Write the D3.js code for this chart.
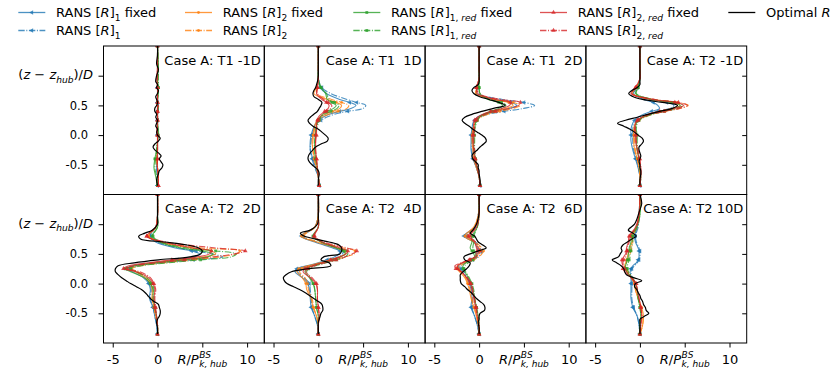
<!DOCTYPE html>
<html lang="en">
<head>
    <meta charset="UTF-8">
    <title>Case A: RANS vs optimal R profiles</title>
    <style>
        body {
            margin: 0;
            background-color: #ffffff;
        }
        svg {
            display: block;
            font-family: "DejaVu Sans", sans-serif;
        }
        .case-label {
            font-size: 13px;
            white-space: pre;
        }
        .rich {
            white-space: pre;
        }
        .frame {
            fill: none;
            stroke: #000;
            stroke-width: 1;
        }
    </style>
</head>
<body>
    <svg id="chart" width="830" height="386"></svg>

    <script src="https://d3js.org/d3.v7.min.js"></script>
    <script>
        // heights (z - z_hub)/D where the RANS profiles are sampled
        var zRans = [-0.85, -0.7, -0.55, -0.4, -0.25, -0.1,
                     0.0, 0.1, 0.2, 0.25, 0.3, 0.35, 0.4, 0.45, 0.5, 0.55,
                     0.6, 0.7, 0.8, 0.95, 1.15, 1.5];

        // heights where the optimal R profile is sampled
        var zOpt = [-0.85, -0.75, -0.65,
                    -0.6, -0.55, -0.5, -0.45, -0.4, -0.35, -0.3, -0.25, -0.2, -0.15, -0.1, -0.05,
                    0.0, 0.05, 0.1, 0.15, 0.2, 0.25, 0.3, 0.35, 0.4, 0.45, 0.5, 0.55, 0.6, 0.65, 0.7, 0.75, 0.8, 0.85, 0.9,
                    1.0, 1.1, 1.2, 1.35, 1.5];

        var panelTitles = ['Case A: T1 -1D', 'Case A: T1  1D', 'Case A: T1  2D', 'Case A: T2 -1D',
                           'Case A: T2  2D', 'Case A: T2  4D', 'Case A: T2  6D', 'Case A: T2 10D'];

        var xTicks = [-5, 0, 5, 10];
        var yTicks = [-0.5, 0.0, 0.5, 1.0];

        // series order: [R]1 fixed, [R]1, [R]2 fixed, [R]2, [R]1,red fixed, [R]1,red, [R]2,red fixed, [R]2,red
        var ransT1m1 = [
            [0.0, 0.0, -0.1, -0.1, 0.0, 0.0,  0.0, 0.0, 0.0, 0.0, 0.0, 0.0, 0.0, 0.0, 0.1, 0.0,  0.0, 0.0, 0.0, 0.0, 0.0, 0.0],
            [0.0, 0.0, -0.1, -0.1, -0.1, 0.0,  0.0, 0.0, 0.0, 0.0, 0.0, 0.0, 0.0, 0.1, 0.1, 0.0,  0.0, 0.0, 0.0, 0.0, 0.0, 0.0],
            [0.0, 0.1, 0.0, -0.1, 0.0, 0.0,  0.0, 0.0, 0.0, 0.0, 0.0, 0.0, 0.0, 0.0, 0.0, 0.0,  0.0, 0.0, 0.0, 0.0, 0.0, 0.0],
            [0.0, 0.1, 0.0, -0.1, -0.1, 0.0,  0.0, 0.0, 0.0, 0.0, 0.0, 0.0, 0.0, 0.0, 0.1, 0.0,  0.0, 0.0, 0.0, 0.0, 0.0, 0.0],
            [0.0, -0.2, -0.4, -0.3, -0.1, 0.0,  0.1, 0.1, 0.0, 0.0, 0.0, 0.0, 0.0, 0.0, 0.0, 0.0,  0.0, 0.1, 0.1, 0.0, 0.1, 0.0],
            [0.0, -0.1, -0.3, -0.2, -0.1, 0.0,  0.0, 0.0, 0.0, 0.0, 0.0, 0.0, 0.0, 0.1, 0.0, 0.0,  0.0, 0.1, 0.1, 0.1, 0.1, 0.0],
            [0.1, 0.1, 0.0, 0.0, 0.0, 0.0,  0.0, -0.1, 0.0, 0.0, 0.0, 0.0, 0.0, 0.0, 0.0, 0.0,  0.0, 0.0, 0.0, -0.1, 0.0, 0.0],
            [0.1, 0.1, 0.0, 0.0, 0.0, 0.0,  0.0, 0.0, 0.0, 0.0, 0.0, 0.0, 0.0, 0.0, 0.1, 0.0,  0.0, 0.0, 0.0, 0.0, 0.0, 0.0]
        ];
        var ransT1p1 = [
            [0.1, 0.0, -0.3, -0.6, -0.9, -0.9,  -0.8, -0.6, -0.3, 0.0, 0.5, 1.2, 2.4, 3.7, 4.2, 3.5,  2.4, 0.9, 0.2, 0.0, 0.0, 0.0],
            [0.1, 0.0, -0.4, -0.7, -0.9, -0.8,  -0.7, -0.5, -0.2, 0.3, 0.9, 1.8, 3.3, 5.0, 5.3, 4.3,  3.2, 1.4, 0.4, 0.0, 0.0, 0.0],
            [0.1, 0.0, -0.2, -0.4, -0.6, -0.7,  -0.6, -0.5, -0.3, -0.1, 0.2, 0.8, 1.6, 2.4, 2.6, 2.0,  1.0, -0.5, -0.2, 0.0, 0.0, 0.0],
            [0.1, 0.0, -0.2, -0.5, -0.6, -0.6,  -0.5, -0.4, -0.2, 0.1, 0.5, 1.2, 2.2, 3.2, 3.4, 2.6,  1.5, -0.2, -0.1, 0.0, 0.0, 0.0],
            [0.1, 0.0, -0.1, -0.3, -0.4, -0.4,  -0.3, -0.3, -0.1, 0.0, 0.2, 0.5, 1.0, 1.7, 2.0, 1.5,  1.0, 0.8, 0.3, 0.0, 0.0, 0.0],
            [0.1, 0.0, -0.1, -0.3, -0.4, -0.4,  -0.3, -0.2, 0.0, 0.1, 0.3, 0.7, 1.4, 2.1, 2.3, 1.8,  1.2, 0.9, 0.3, 0.0, 0.0, 0.0],
            [0.1, 0.0, -0.1, -0.2, -0.3, -0.3,  -0.3, -0.2, -0.2, -0.1, 0.0, 0.3, 0.7, 1.1, 1.2, 0.9,  0.4, -0.2, -0.1, 0.0, 0.0, 0.0],
            [0.1, 0.0, -0.1, -0.2, -0.3, -0.3,  -0.2, -0.2, -0.1, 0.0, 0.2, 0.5, 0.9, 1.4, 1.5, 1.1,  0.6, -0.1, -0.1, 0.0, 0.0, 0.0]
        ];
        var ransT1p2 = [
            [0.1, 0.0, -0.3, -0.7, -0.9, -0.9,  -0.9, -0.8, -0.7, -0.5, -0.2, 0.5, 1.8, 3.4, 4.2, 3.6,  1.8, -0.3, -0.2, 0.0, 0.0, 0.0],
            [0.1, 0.0, -0.3, -0.6, -0.8, -0.8,  -0.8, -0.7, -0.6, -0.4, 0.0, 1.0, 2.8, 5.0, 6.2, 5.0,  2.6, -0.1, -0.2, 0.0, 0.0, 0.0],
            [0.1, 0.0, -0.3, -0.6, -0.7, -0.8,  -0.8, -0.7, -0.5, -0.3, 0.0, 0.7, 1.8, 3.0, 3.8, 3.3,  1.5, -0.4, -0.2, 0.0, 0.0, 0.0],
            [0.1, 0.0, -0.2, -0.5, -0.6, -0.7,  -0.7, -0.6, -0.5, -0.2, 0.2, 1.0, 2.3, 3.8, 4.6, 3.8,  1.8, -0.3, -0.2, 0.0, 0.0, 0.0],
            [0.1, 0.0, -0.2, -0.4, -0.6, -0.6,  -0.6, -0.5, -0.4, -0.3, 0.0, 0.5, 1.3, 2.2, 2.6, 2.2,  1.0, 0.1, 0.0, 0.0, 0.0, 0.0],
            [0.1, 0.0, -0.2, -0.4, -0.5, -0.5,  -0.5, -0.5, -0.3, -0.2, 0.1, 0.7, 1.6, 2.6, 3.0, 2.5,  1.2, 0.1, 0.0, 0.0, 0.0, 0.0],
            [0.1, 0.0, -0.2, -0.5, -0.6, -0.7,  -0.7, -0.6, -0.6, -0.5, -0.2, 0.4, 1.3, 2.6, 3.4, 3.5,  1.8, -0.2, -0.3, 0.0, 0.0, 0.0],
            [0.1, 0.0, -0.2, -0.4, -0.5, -0.6,  -0.6, -0.5, -0.5, -0.3, 0.0, 0.7, 1.8, 3.4, 4.4, 4.6,  2.4, 0.0, -0.3, 0.0, 0.0, 0.0]
        ];
        var ransT2m1 = [
            [0.0, 0.0, -0.2, -0.5, -0.8, -1.0,  -1.0, -1.0, -0.8, -0.6, -0.2, 0.4, 1.3, 2.2, 2.0, 1.5,  0.4, -0.8, -0.3, 0.0, 0.0, 0.0],
            [0.0, 0.0, -0.2, -0.4, -0.7, -0.8,  -0.8, -0.8, -0.6, -0.3, 0.2, 0.9, 2.0, 3.3, 3.8, 3.0,  1.0, -0.7, -0.3, 0.0, 0.0, 0.0],
            [0.0, 0.0, -0.1, -0.3, -0.6, -0.7,  -0.7, -0.7, -0.5, -0.2, 0.3, 1.0, 2.2, 3.6, 4.5, 3.6,  1.2, -0.9, -0.4, 0.0, 0.0, 0.0],
            [0.0, 0.0, -0.1, -0.3, -0.5, -0.6,  -0.6, -0.6, -0.4, -0.1, 0.5, 1.4, 2.8, 4.5, 5.4, 4.2,  1.6, -0.8, -0.4, 0.0, 0.0, 0.0],
            [0.0, 0.1, 0.0, -0.1, -0.3, -0.4,  -0.4, -0.5, -0.4, -0.2, 0.3, 1.1, 2.3, 3.8, 4.5, 3.5,  1.3, -0.5, -0.2, 0.0, 0.0, 0.0],
            [0.0, 0.1, 0.0, -0.1, -0.3, -0.3,  -0.3, -0.4, -0.3, -0.1, 0.5, 1.4, 2.7, 4.2, 4.8, 3.8,  1.5, -0.4, -0.2, 0.0, 0.0, 0.0],
            [0.0, 0.1, 0.1, -0.1, -0.3, -0.5,  -0.5, -0.6, -0.5, -0.3, 0.2, 0.9, 2.2, 3.8, 4.9, 3.9,  1.4, -1.0, -0.5, 0.0, 0.0, 0.0],
            [0.0, 0.1, 0.1, 0.0, -0.2, -0.4,  -0.4, -0.5, -0.4, -0.2, 0.4, 1.2, 2.7, 4.4, 5.3, 4.3,  1.7, -0.9, -0.5, 0.0, 0.0, 0.0]
        ];
        var ransT2p2 = [
            [0.0, -0.1, -0.3, -0.5, -0.9, -0.8,  -1.0, -1.6, -2.8, -3.5, -2.8, -0.5, 2.2, 4.2, 4.7, 3.8,  2.0, -0.2, -0.9, -0.2, 0.0, 0.0],
            [0.0, -0.1, -0.3, -0.5, -0.8, -0.7,  -0.9, -1.4, -2.4, -3.2, -2.2, 0.5, 4.0, 7.3, 6.0, 4.3,  2.4, 0.0, -0.8, -0.2, 0.0, 0.0],
            [0.0, 0.0, -0.2, -0.4, -0.6, -0.6,  -0.8, -1.4, -2.5, -3.4, -2.6, -0.3, 2.5, 5.2, 6.5, 6.0,  3.5, 0.3, -1.0, -0.2, 0.0, 0.0],
            [0.0, 0.0, -0.2, -0.4, -0.6, -0.5,  -0.7, -1.2, -2.2, -2.9, -1.8, 0.8, 4.0, 7.0, 8.8, 9.2,  5.0, 0.5, -1.0, -0.2, 0.0, 0.0],
            [0.0, 0.0, -0.1, -0.3, -0.5, -0.5,  -0.8, -1.5, -3.0, -3.6, -2.5, 0.0, 3.0, 5.6, 6.2, 5.0,  2.6, 0.2, -0.6, 0.0, 0.0, 0.0],
            [0.0, 0.0, -0.1, -0.3, -0.4, -0.4,  -0.6, -1.2, -2.4, -3.0, -1.8, 1.2, 4.8, 8.2, 8.8, 6.5,  3.3, 0.4, -0.5, 0.0, 0.0, 0.0],
            [0.0, 0.0, -0.1, -0.3, -0.4, -0.3,  -0.5, -1.0, -2.4, -3.8, -3.2, -1.0, 1.6, 4.4, 5.8, 6.0,  4.0, 0.6, -1.2, -0.2, 0.0, 0.0],
            [0.0, 0.0, -0.1, -0.2, -0.3, -0.2,  -0.4, -0.8, -2.0, -3.4, -2.6, 0.0, 3.0, 6.2, 8.6, 9.8,  6.5, 1.0, -1.2, -0.2, 0.0, 0.0]
        ];
        var ransT2p4 = [
            [0.0, -0.1, -0.4, -0.8, -0.9, -1.0,  -1.2, -1.8, -2.6, -2.4, -1.3, 0.0, 1.0, 1.8, 2.3, 2.4,  1.6, -0.4, -1.9, -0.4, 0.0, 0.0],
            [0.0, -0.1, -0.4, -0.7, -0.8, -0.9,  -1.0, -1.6, -2.3, -2.0, -1.0, 0.3, 1.3, 2.2, 2.7, 2.8,  2.0, -0.2, -1.7, -0.4, 0.0, 0.0],
            [0.0, 0.0, -0.2, -0.6, -0.8, -1.3,  -1.4, -1.8, -2.4, -2.2, -1.2, 0.2, 1.3, 2.4, 3.0, 2.9,  2.0, -0.2, -1.9, -0.4, 0.0, 0.0],
            [0.0, 0.0, -0.2, -0.5, -0.7, -1.1,  -1.2, -1.5, -2.1, -1.8, -0.8, 0.6, 1.8, 3.0, 4.0, 4.1,  2.8, 0.2, -1.6, -0.4, 0.0, 0.0],
            [0.0, 0.0, 0.0, -0.2, -0.3, -0.4,  -0.6, -1.0, -1.5, -1.3, -0.6, 0.6, 1.6, 2.5, 3.0, 2.8,  2.0, 0.3, -0.6, 0.0, 0.0, 0.0],
            [0.0, 0.0, 0.0, -0.2, -0.3, -0.4,  -0.5, -0.9, -1.3, -1.1, -0.3, 0.9, 2.0, 3.0, 3.3, 3.1,  2.2, 0.4, -0.5, 0.0, 0.0, 0.0],
            [0.0, 0.0, 0.1, 0.0, -0.1, -0.1,  -0.3, -0.9, -1.7, -1.5, -0.7, 0.4, 1.4, 2.4, 3.1, 3.3,  2.4, 0.4, -0.5, 0.0, 0.0, 0.0],
            [0.0, 0.0, 0.1, 0.0, -0.1, -0.1,  -0.2, -0.7, -1.4, -1.2, -0.4, 0.8, 2.0, 3.0, 3.8, 4.3,  3.2, 0.7, -0.4, 0.0, 0.0, 0.0]
        ];
        var ransT2p6 = [
            [0.0, -0.2, -0.5, -0.9, -0.8, -0.9,  -1.1, -1.4, -1.9, -2.2, -2.3, -1.8, -1.0, -0.4, -0.2, 0.0,  -0.2, -0.6, -1.7, -0.5, -0.1, 0.0],
            [0.0, -0.2, -0.5, -0.8, -0.7, -0.8,  -1.0, -1.3, -1.7, -2.0, -2.0, -1.5, -0.7, -0.1, 0.2, 0.3,  0.1, -0.4, -1.4, -0.4, -0.1, 0.0],
            [0.0, -0.1, -0.3, -0.6, -0.9, -1.1,  -1.3, -1.6, -2.2, -2.5, -2.4, -1.8, -1.0, -0.3, -0.1, 0.2,  0.0, -0.6, -1.6, -0.6, -0.1, 0.0],
            [0.0, -0.1, -0.3, -0.5, -0.8, -1.0,  -1.2, -1.5, -2.0, -2.3, -2.1, -1.5, -0.6, 0.0, 0.3, 0.5,  0.3, -0.4, -1.3, -0.5, -0.1, 0.0],
            [0.0, 0.0, -0.1, -0.3, -0.5, -0.7,  -0.9, -1.2, -1.6, -1.8, -1.8, -1.5, -0.9, -0.5, -0.6, -0.8,  -1.0, -0.8, -0.8, -0.2, 0.0, 0.0],
            [0.0, 0.0, -0.1, -0.3, -0.5, -0.6,  -0.8, -1.1, -1.5, -1.7, -1.6, -1.2, -0.7, -0.3, -0.4, -0.6,  -0.7, -0.6, -0.6, -0.2, 0.0, 0.0],
            [0.0, 0.0, -0.2, -0.4, -0.6, -0.8,  -1.0, -1.4, -2.0, -2.4, -2.4, -1.9, -1.1, -0.5, -0.3, -0.2,  -0.3, -0.5, -1.2, -0.3, 0.0, 0.0],
            [0.0, 0.0, -0.2, -0.3, -0.5, -0.7,  -0.9, -1.3, -2.0, -2.6, -2.7, -2.0, -1.0, -0.3, 0.0, 0.1,  -0.1, -0.4, -1.0, -0.3, 0.0, 0.0]
        ];
        var ransT2p10 = [
            [0.0, -0.1, -0.3, -0.8, -1.0, -1.0,  -1.0, -1.0, -1.1, -1.0, -0.8, -0.4, -0.2, -0.1, -0.1, -0.1,  -0.2, -0.5, -0.6, -0.3, -0.1, 0.0],
            [0.0, -0.1, -0.3, -0.7, -0.9, -0.9,  -0.9, -0.9, -1.0, -0.9, -0.6, -0.3, -0.1, 0.0, 0.0, 0.0,  -0.1, -0.4, -0.5, -0.2, -0.1, 0.0],
            [0.0, 0.3, 0.4, 0.2, -0.2, -0.5,  -0.6, -1.0, -1.4, -1.6, -1.7, -1.6, -1.5, -1.4, -1.3, -1.2,  -1.1, -0.9, -0.9, -0.4, -0.1, 0.0],
            [0.0, 0.3, 0.3, 0.1, -0.2, -0.5,  -0.6, -0.9, -1.3, -1.5, -1.6, -1.5, -1.4, -1.2, -1.1, -1.0,  -0.9, -0.8, -0.8, -0.3, -0.1, 0.0],
            [0.0, 0.0, 0.1, 0.0, -0.2, -0.3,  -0.5, -0.9, -1.5, -1.6, -1.6, -1.5, -1.4, -1.3, -1.3, -1.2,  -1.2, -1.0, -1.0, -0.4, 0.0, 0.0],
            [0.0, 0.0, 0.1, 0.0, -0.2, -0.3,  -0.5, -0.8, -1.3, -1.4, -1.4, -1.3, -1.2, -1.1, -1.1, -1.0,  -1.0, -0.8, -0.8, -0.3, 0.0, 0.0],
            [0.0, 0.1, 0.2, 0.1, -0.1, -0.3,  -0.5, -1.0, -1.7, -1.9, -1.9, -2.0, -2.0, -1.8, -1.6, -1.5,  -1.5, -1.3, -1.2, -0.5, -0.1, 0.0],
            [0.0, 0.1, 0.2, 0.1, -0.1, -0.3,  -0.4, -0.9, -1.5, -1.7, -1.8, -1.9, -1.8, -1.6, -1.5, -1.4,  -1.4, -1.2, -1.1, -0.4, -0.1, 0.0]
        ];

        // optimal R profiles (sampled on zOpt)
        var optT1m1 = [0.0, -0.1, 0.1,
                       0.2, 0.5, 0.6, 0.4, 0.2, 0.4, 0.1, -0.3, -0.5, -0.3, 0.1, 0.3,
                       0.0, -0.1, 0.0, -0.2, -0.1, 0.0, -0.2, -0.1, -0.3, -0.3, -0.1, 0.0, -0.1, -0.2, 0.0, 0.1, -0.1, 0.0, -0.2,
                       -0.1, 0.1, -0.1, 0.0, 0.0];
        var optT1p1 = [0.0, 0.0, 0.1,
                       0.0, -0.3, -0.7, -1.0, -1.15, -1.1, -0.9, -0.6, -0.3, 0.3, 1.0, 1.1,
                       0.8, 0.4, 0.0, -0.6, -1.0, -1.15, -0.9, -0.5, -0.1, 0.1, 0.3, 0.4, 0.0, -0.5, -0.6, -0.5, -0.3, -0.2, -0.1,
                       0.0, 0.0, 0.0, 0.0, 0.0];
        var optT1p2 = [0.1, 0.1, 0.0,
                       0.0, -0.1, -0.1, -0.4, -0.7, -0.8, -0.6, -0.2, 0.1, 0.5, 0.8, 0.7,
                       0.3, -0.2, -0.7, -1.1, -1.6, -1.9, -1.6, -0.8, 0.3, 1.6, 2.9, 2.2, 1.1, 0.0, -0.6, -0.8, -0.6, -0.1, 0.0,
                       0.0, 0.0, 0.0, 0.0, 0.0];
        var optT2m1 = [0.0, 0.0, 0.1,
                       0.1, 0.0, 0.0, -0.1, 0.0, 0.1, 0.0, -0.1, -0.1, 0.2, 0.4, 0.25,
                       -0.2, -0.6, -1.1, -1.8, -2.5, -1.6, -0.3, 0.9, 2.2, 3.6, 4.2, 2.5, 0.3, -0.8, -1.25, -0.9, -0.3, 0.0, 0.0,
                       0.0, 0.0, 0.0, 0.0, 0.0];
        var optT2p2 = [0.0, 0.0, -0.1,
                       0.0, 0.2, 0.3, 0.3, 0.2, 0.1, -0.4, -0.8, -1.1, -1.4, -1.8, -2.4,
                       -3.0, -3.5, -4.0, -4.4, -4.7, -4.7, -4.4, -2.6, 0.1, 3.6, 4.8, 5.0, 4.6, 3.3, 0.8, -1.9, -2.1, -1.4, -0.6,
                       0.0, 0.0, 0.0, 0.0, 0.0];
        var optT2p4 = [0.0, 0.0, 0.0,
                       0.1, 0.2, 0.3, 0.5, 0.5, 0.4, 0.0, -0.5, -1.0, -1.5, -2.1, -2.8,
                       -3.5, -3.8, -3.9, -3.6, -3.0, -1.2, 1.4, 1.2, 0.3, 0.6, 2.4, 2.6, 2.6, 2.3, 1.2, -0.3, -1.6, -2.0, -0.9,
                       -0.1, 0.0, 0.0, 0.0, 0.0];
        var optT2p6 = [0.0, 0.0, -0.1,
                       0.0, 0.0, 0.1, 0.6, 0.65, 0.5, 0.1, -0.3, -0.6, -0.9, -1.3, -1.6,
                       -2.0, -2.1, -2.1, -2.1, -1.8, -1.4, -1.1, -1.0, -1.6, -1.7, -1.0, -0.1, 0.8, 0.4, -0.1, -0.3, -0.5, -1.0, -0.7,
                       -0.3, -0.1, 0.0, 0.0, 0.0];
        var optT2p10 = [0.0, 0.0, 0.0,
                        0.0, 0.5, 1.0, 0.7, 0.6, 0.4, 0.3, 0.1, 0.0, -0.2, -0.35, -0.6,
                        -0.5, 0.2, -0.7, -1.5, -1.7, -1.8, -2.1, -2.6, -3.1, -2.4, -2.2, -2.0, -2.1, -1.9, -1.4, -0.9, -0.4, -0.8, -1.3,
                        -0.6, -0.3, -0.1, 0.2, 0.0];

        var ransPanels = [ransT1m1, ransT1p1, ransT1p2, ransT2m1, ransT2p2, ransT2p4, ransT2p6, ransT2p10];
        var optPanels = [optT1m1, optT1p1, optT1p2, optT2m1, optT2p2, optT2p4, optT2p6, optT2p10];

        // series styles
        var seriesColors = ['#1f77b4', '#1f77b4', '#ff7f0e', '#ff7f0e', '#2ca02c', '#2ca02c', '#d62728', '#d62728'];
        var seriesDashed = [false, true, false, true, false, true, false, true];
        var seriesMarkers = ['left', 'left', 'dot', 'dot', 'square', 'square', 'up', 'up'];

        // legend labels as pieces of math text
        var seriesLabels = [
            [{t: 'RANS ['}, {t: 'R', i: 1}, {t: ']'}, {t: '1', sub: 1}, {t: ' fixed'}],
            [{t: 'RANS ['}, {t: 'R', i: 1}, {t: ']'}, {t: '1', sub: 1}],
            [{t: 'RANS ['}, {t: 'R', i: 1}, {t: ']'}, {t: '2', sub: 1}, {t: ' fixed'}],
            [{t: 'RANS ['}, {t: 'R', i: 1}, {t: ']'}, {t: '2', sub: 1}],
            [{t: 'RANS ['}, {t: 'R', i: 1}, {t: ']'}, {t: '1, ', sub: 1}, {t: 'red', sub: 1, i: 1}, {t: ' fixed'}],
            [{t: 'RANS ['}, {t: 'R', i: 1}, {t: ']'}, {t: '1, ', sub: 1}, {t: 'red', sub: 1, i: 1}],
            [{t: 'RANS ['}, {t: 'R', i: 1}, {t: ']'}, {t: '2, ', sub: 1}, {t: 'red', sub: 1, i: 1}, {t: ' fixed'}],
            [{t: 'RANS ['}, {t: 'R', i: 1}, {t: ']'}, {t: '2, ', sub: 1}, {t: 'red', sub: 1, i: 1}]
        ];
        var optLabel = [{t: 'Optimal '}, {t: 'R', i: 1}];

        // layout
        var plotLeft = 103.5, plotTop = 46;
        var panelW = 160.8, panelH = 148.5;

        var svg = d3.select('#chart');

        var xScale = d3.scaleLinear().domain([-6.03, 11.92]).range([0, panelW]);
        var yScale = d3.scaleLinear().domain([-1, 1.5]).range([panelH, 0]);

        var line = d3.line()
            .x(d => xScale(d[1]))
            .y(d => yScale(d[0]))
            .curve(d3.curveCatmullRom.alpha(0.5));

        // write text with italic / sub / sup pieces into a <text>
        function richText(sel, parts, size) {
            var shift = 0;
            parts.forEach(function (p) {
                var target = p.sub ? size * 0.28 : (p.sup ? -size * 0.4 : 0);
                sel.append('tspan')
                    .attr('dy', target - shift)
                    .style('font-size', (p.sub || p.sup ? size * 0.7 : size) + 'px')
                    .style('font-style', p.i ? 'italic' : 'normal')
                    .text(p.t);
                shift = target;
            });
        }

        function drawMarker(sel, kind, cx, cy, color) {
            var sym;
            if (kind === 'square') sym = d3.symbol(d3.symbolSquare, 8);
            else if (kind === 'dot') sym = d3.symbol(d3.symbolCircle, 6);
            else sym = d3.symbol(d3.symbolTriangle, 9);
            var rot = kind === 'left' ? -90 : 0;
            sel.append('path')
                .attr('d', sym())
                .attr('transform', `translate(${cx},${cy}) rotate(${rot})`)
                .attr('fill', color)
                .attr('fill-opacity', 0.8);
        }

        var defs = svg.append('defs');

        ransPanels.forEach(function (rans, k) {
            var col = k % 4, row = Math.floor(k / 4);
            var g = svg.append('g')
                .attr('transform', `translate(${plotLeft + col * panelW},${plotTop + row * panelH})`);

            defs.append('clipPath').attr('id', 'clip' + k)
                .append('rect').attr('width', panelW).attr('height', panelH);

            var plot = g.append('g').attr('clip-path', `url(#clip${k})`);

            // RANS profiles
            rans.forEach(function (vals, s) {
                var pts = zRans.map((z, i) => [z, vals[i]]);
                plot.append('path')
                    .attr('d', line(pts))
                    .attr('fill', 'none')
                    .attr('stroke', seriesColors[s])
                    .attr('stroke-opacity', 0.8)
                    .attr('stroke-width', 1.1)
                    .attr('stroke-dasharray', seriesDashed[s] ? '6.4,1.6,1,1.6' : null);
                pts.forEach(function (d, i) {
                    if (i % 3 === 0) drawMarker(plot, seriesMarkers[s], xScale(d[1]), yScale(d[0]), seriesColors[s]);
                });
            });

            // optimal R
            plot.append('path')
                .attr('d', line(zOpt.map((z, i) => [z, optPanels[k][i]])))
                .attr('fill', 'none')
                .attr('stroke', '#000')
                .attr('stroke-width', 1.2);

            // inward ticks on the right edge
            g.append('g')
                .attr('transform', `translate(${panelW},0)`)
                .call(d3.axisLeft(yScale).tickValues(yTicks).tickSize(4.5).tickFormat(''))
                .call(a => a.select('.domain').remove());

            if (col === 0) {
                var ya = g.append('g')
                    .call(d3.axisLeft(yScale).tickValues(yTicks).tickSize(5).tickPadding(10.5)
                        .tickFormat(d => d === 1 ? '' : d.toFixed(1)));
                ya.select('.domain').remove();
                ya.selectAll('text')
                    .attr('font-family', '"DejaVu Sans", sans-serif')
                    .attr('font-size', 11.5)
                    .attr('fill', '#000');

                // axis label sits where the 1.0 label would be
                var yl = g.append('text')
                    .attr('class', 'rich')
                    .attr('x', -10.5)
                    .attr('y', yScale(1.0) + 3.5)
                    .attr('text-anchor', 'end');
                richText(yl, [{t: '('}, {t: 'z', i: 1}, {t: ' \u2212 '}, {t: 'z', i: 1}, {t: 'hub', sub: 1, i: 1},
                    {t: ')/'}, {t: 'D', i: 1}], 13);
            }

            if (row === 1) {
                var xa = g.append('g')
                    .attr('transform', `translate(0,${panelH})`)
                    .call(d3.axisBottom(xScale).tickValues(xTicks).tickSize(4.5).tickPadding(7.6)
                        .tickFormat(d => d === 5 ? '' : String(d)));
                xa.select('.domain').remove();
                xa.selectAll('text')
                    .attr('font-family', '"DejaVu Sans", sans-serif')
                    .attr('font-size', 13)
                    .attr('fill', '#000');

                // R / P_{k,hub}^{BS} at the place of the 5 tick
                var xl = g.append('g');
                var base = panelH + 21.3;
                var main = xl.append('text').attr('class', 'rich').attr('y', base);
                richText(main, [{t: 'R', i: 1}, {t: '/'}, {t: 'P', i: 1}], 13);
                var mw = main.node().getComputedTextLength();
                var sup = xl.append('text').attr('x', mw + 0.5).attr('y', base - 6.8)
                    .style('font-size', '9px').style('font-style', 'italic').text('BS');
                var sub = xl.append('text').attr('class', 'rich').attr('x', mw + 0.5).attr('y', base + 2.6)
                    .style('font-size', '9px').style('font-style', 'italic').text('k, hub');
                var total = mw + 0.5 + Math.max(sup.node().getComputedTextLength(), sub.node().getComputedTextLength());
                xl.attr('transform', `translate(${xScale(5) - total / 2},0)`);
            }

            g.append('rect').attr('class', 'frame').attr('width', panelW).attr('height', panelH);

            g.append('text')
                .attr('class', 'case-label')
                .attr('x', panelW - 3.5)
                .attr('y', 18.5)
                .attr('text-anchor', 'end')
                .text(panelTitles[k]);
        });

        // legend: 5 columns, filled column by column
        var legendCols = [18.3, 185, 353.3, 540, 728.3];
        var legendRows = [12.5, 30.5];

        seriesLabels.forEach(function (parts, s) {
            var lx = legendCols[Math.floor(s / 2)], ly = legendRows[s % 2];
            var lg = svg.append('g').attr('transform', `translate(${lx},${ly})`);
            lg.append('line')
                .attr('x1', 0).attr('x2', 27)
                .attr('stroke', seriesColors[s])
                .attr('stroke-opacity', 0.8)
                .attr('stroke-width', 1.3)
                .attr('stroke-dasharray', seriesDashed[s] ? '6.4,1.6,1,1.6' : null);
            drawMarker(lg, seriesMarkers[s], 13.5, 0, seriesColors[s]);
            var t = lg.append('text').attr('class', 'rich').attr('x', 37.7).attr('y', 4.7);
            richText(t, parts, 13);
        });

        var og = svg.append('g').attr('transform', `translate(${legendCols[4]},${legendRows[0]})`);
        og.append('line').attr('x1', 0).attr('x2', 27).attr('stroke', '#000').attr('stroke-width', 1.3);
        richText(og.append('text').attr('class', 'rich').attr('x', 37.7).attr('y', 4.7), optLabel, 13);
    </script>
</body>
</html>
